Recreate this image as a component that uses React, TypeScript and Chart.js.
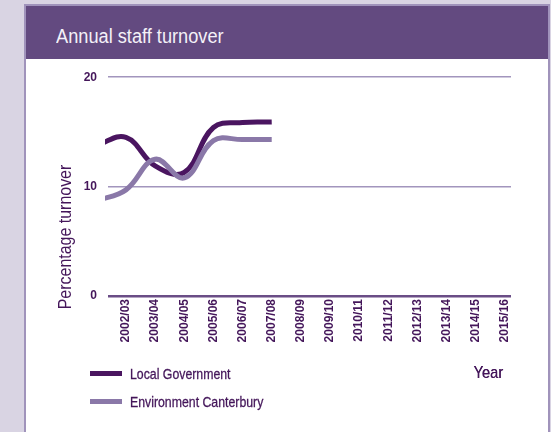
import React, { useEffect, useRef } from "react";
import { Chart, registerables } from "chart.js";

Chart.register(...registerables);

const yearLabels = [
  "2001/02", "2002/03", "2003/04", "2004/05", "2005/06", "2006/07", "2007/08",
  "2008/09", "2009/10", "2010/11", "2011/12", "2012/13", "2013/14", "2014/15", "2015/16",
];
const localGovernment = [13.8, 14.5, 11.9, 11.3, 15.4, 15.85, 15.9];
const environmentCanterbury = [8.7, 9.7, 12.5, 10.8, 14.2, 14.3, 14.3];
const yTicks = [0, 10, 20];

const FONT = '"Liberation Sans", Arial, sans-serif';
const TEXT = "#44165a";
const DARK = "#4a1560";
const LIGHT = "#8a78a8";

const axisTitles = {
  id: "axisTitles",
  afterDraw(chart: any) {
    const { ctx, chartArea } = chart;
    ctx.save();
    ctx.fillStyle = TEXT;
    ctx.font = `19px ${FONT}`;
    ctx.translate(chartArea.left - 37, chartArea.bottom - 59);
    ctx.rotate(-Math.PI / 2);
    ctx.scale(0.84, 1);
    ctx.textAlign = "center";
    ctx.textBaseline = "alphabetic";
    ctx.fillText("Percentage turnover", 0, 0);
    ctx.restore();
    ctx.save();
    ctx.fillStyle = TEXT;
    ctx.font = `17px ${FONT}`;
    ctx.translate(chartArea.right - 8, chartArea.bottom + 77);
    ctx.scale(0.86, 1);
    ctx.textAlign = "right";
    ctx.textBaseline = "middle";
    ctx.fillText("Year", 0, 0);
    ctx.fillText("Year", 0.4, 0);
    ctx.restore();
  },
};

function ChartCanvas() {
  const ref = useRef<HTMLCanvasElement>(null);
  useEffect(() => {
    if (!ref.current) return;
    const toPoints = (arr: number[]) => arr.map((v, i) => ({ x: i, y: v }));
    const chart = new Chart(ref.current, {
      type: "line",
      data: {
        datasets: [
          {
            label: "Environment Canterbury",
            data: toPoints(environmentCanterbury),
            borderColor: LIGHT,
            borderWidth: 5,
            tension: 0.4,
            pointRadius: 0,
            clip: { left: 3, right: 10, top: 10, bottom: 10 } as any,
          },
          {
            label: "Local Government",
            data: toPoints(localGovernment),
            borderColor: DARK,
            borderWidth: 5,
            tension: 0.4,
            pointRadius: 0,
            clip: { left: 3, right: 10, top: 10, bottom: 10 } as any,
          },
        ],
      },
      options: {
        animation: false,
        responsive: false,
        maintainAspectRatio: false,
        layout: { padding: { left: 0, top: 17, right: 37, bottom: 0 } },
        plugins: { legend: { display: false }, tooltip: { enabled: false } },
        scales: {
          x: {
            type: "linear",
            min: 0.383,
            max: 14.21,
            afterBuildTicks: (scale: any) => {
              scale.ticks = yearLabels
                .map((_, i) => ({ value: i }))
                .filter((t) => t.value >= 1);
            },
            afterFit: (scale: any) => {
              scale.height = 136;
            },
            grid: { display: false, drawTicks: false },
            border: { display: false },
            ticks: {
              autoSkip: false,
              minRotation: 90,
              maxRotation: 90,
              padding: 3,
              color: TEXT,
              font: { family: FONT, size: 12, weight: "bold" },
              callback: (v: any) => yearLabels[v] ?? "",
            },
          },
          y: {
            min: 0,
            max: 20,
            afterBuildTicks: (scale: any) => {
              scale.ticks = yTicks.map((v) => ({ value: v }));
            },
            afterFit: (scale: any) => {
              scale.width = 82;
            },
            border: { display: false },
            grid: {
              drawTicks: false,
              color: (c: any) => (c.tick && c.tick.value === 0 ? "#6a4d86" : "#a295bd"),
              lineWidth: (c: any) => (c.tick && c.tick.value === 0 ? 2.5 : 1.6),
            },
            ticks: {
              padding: 11,
              color: TEXT,
              font: { family: FONT, size: 12, weight: "bold" },
            },
          },
        },
      },
      plugins: [axisTitles],
    });
    return () => chart.destroy();
  }, []);
  return (
    <canvas
      ref={ref}
      width={522}
      height={373}
      style={{ position: "absolute", left: 26, top: 59, width: 522, height: 373 }}
    />
  );
}

const legendItems = [
  { label: "Local Government", color: DARK },
  { label: "Environment Canterbury", color: LIGHT },
];

export default function App() {
  return (
    <div style={{ position: "fixed", inset: 0, background: "#d9d4e3", overflow: "hidden" }}>
      <div
        style={{
          position: "absolute",
          left: 24,
          top: 4,
          width: 526,
          height: 460,
          boxSizing: "border-box",
          border: "2px solid #a093bb",
          background: "#ffffff",
        }}
      />
      <div
        style={{
          position: "absolute",
          left: 26,
          top: 6,
          width: 522,
          height: 53,
          background: "#634a80",
        }}
      />
      <div
        style={{
          position: "absolute",
          left: 56,
          top: 22,
          color: "#f4f1f8",
          fontFamily: FONT,
          fontSize: 20,
          lineHeight: "28px",
          whiteSpace: "nowrap",
          transform: "scaleX(0.91)",
          transformOrigin: "left center",
        }}
      >
        Annual staff turnover
      </div>
      <ChartCanvas />
      {legendItems.map((item, i) => (
        <div
          key={item.label}
          style={{
            position: "absolute",
            left: 90,
            top: 363 + i * 28,
            height: 20,
            display: "flex",
            alignItems: "center",
            whiteSpace: "nowrap",
          }}
        >
          <span style={{ display: "inline-block", width: 32, height: 5, background: item.color }} />
          <span
            style={{
              marginLeft: 8,
              fontFamily: FONT,
              fontSize: 15,
              color: TEXT,
              display: "inline-block",
              transform: "scaleX(0.82)",
              transformOrigin: "left center",
              WebkitTextStroke: "0.3px " + TEXT,
            }}
          >
            {item.label}
          </span>
        </div>
      ))}
    </div>
  );
}
